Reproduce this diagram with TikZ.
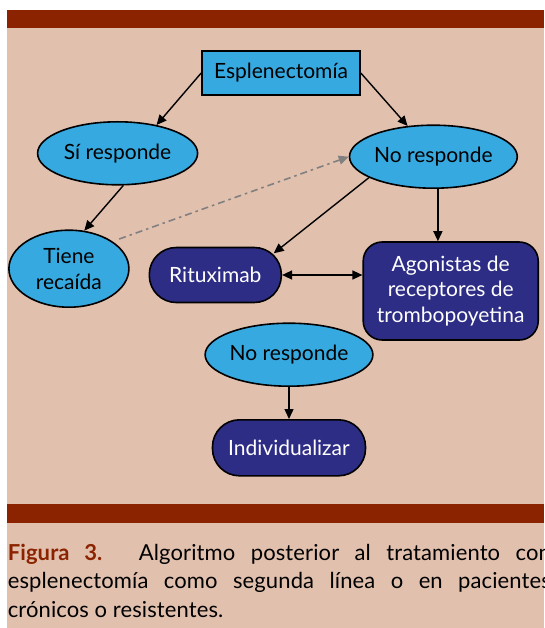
\documentclass[tikz,border=0pt]{standalone}
\usepackage{fontspec}
\setmainfont{Lato}
\usetikzlibrary{shapes.geometric,arrows.meta}
\definecolor{fondo}{HTML}{E2C0AE}
\definecolor{banda}{HTML}{8B2300}
\definecolor{celeste}{HTML}{36A9E0}
\definecolor{marino}{HTML}{2E2D85}
\begin{document}
\begin{tikzpicture}[x=1pt,y=-1pt,
				every node/.style={draw,line width=1.6pt,inner sep=0pt,align=center,font=\fontsize{21}{25.5}\selectfont},
				caja/.style={rectangle,fill=celeste,minimum width=158pt,minimum height=44pt},
				elipse/.style={ellipse,fill=celeste,minimum width=160pt,minimum height=63pt},
				pastilla/.style={rectangle,fill=marino,text=white,rounded corners=27pt,minimum height=55pt},
				flecha/.style={line width=1.4pt,-{Triangle[length=10pt,width=9pt]}},
				punteada/.style={line width=1.6pt,gray,dash pattern=on 7pt off 4pt on 2.5pt off 4pt,-{Triangle[length=10pt,width=9pt]}}]
\path[use as bounding box,clip] (0,0) rectangle (544,628);
\fill[white] (0,0) rectangle (544,628);
\fill[fondo] (7,10) rectangle (544,628);
\fill[banda] (7,10) rectangle (544,28.5);
\fill[banda] (7,504) rectangle (544,522.5);
\node[caja] (esp) at (281,73) {Esplenectom\'ia};
\node[elipse] (si) at (117.6,153.3) {S\'i responde};
\node[elipse] (no1) at (433.4,156.7) {No responde};
\node[elipse,minimum width=120pt,minimum height=77pt] (recaida) at (68.9,268.7) {Tiene\\reca\'ida};
\node[pastilla,minimum width=132pt] (ritux) at (215.3,275) {Rituximab};
\node[pastilla,rounded corners=19pt,minimum width=175pt,minimum height=98pt] (agon) at (450.7,291) {Agonistas de\\receptores de\\trombopoyetina};
\node[elipse] (no2) at (289,354.7) {No responde};
\node[pastilla,minimum width=153pt,minimum height=56pt] (indiv) at (289,447.8) {Individualizar};
\draw[flecha] (esp.west) -- (si.36);
\draw[flecha] (esp.east) -- (no1.130);
\draw[flecha] (si.-80) -- (recaida.68);
\draw[punteada,shorten <=7pt] (recaida.32) -- (no1.west);
\draw[flecha] (no1.198) -- ([shift={(-8.4,-21.7)}]ritux.east);
\draw[flecha] ([xshift=4.5pt]no1.south) -- ([xshift=4.5pt]no1.south |- agon.north);
\draw[flecha,{Triangle[length=10pt,width=9pt]}-{Triangle[length=10pt,width=9pt]}] (ritux.east) -- (ritux.east -| agon.west);
\draw[flecha] (no2.south) -- (indiv.north);
\node[draw=none,anchor=base west,text width=543pt,align=justify,font=\fontsize{22}{28.5}\selectfont\addfontfeature{LetterSpace=0.5}] (pie) at (7,560) {{\bfseries\color{banda}Figura 3.} Algoritmo posterior al tratamiento con\linebreak esplenectom\'ia como segunda l\'inea o en pacientes\linebreak cr\'onicos o resistentes.};
\end{tikzpicture}
\end{document}
